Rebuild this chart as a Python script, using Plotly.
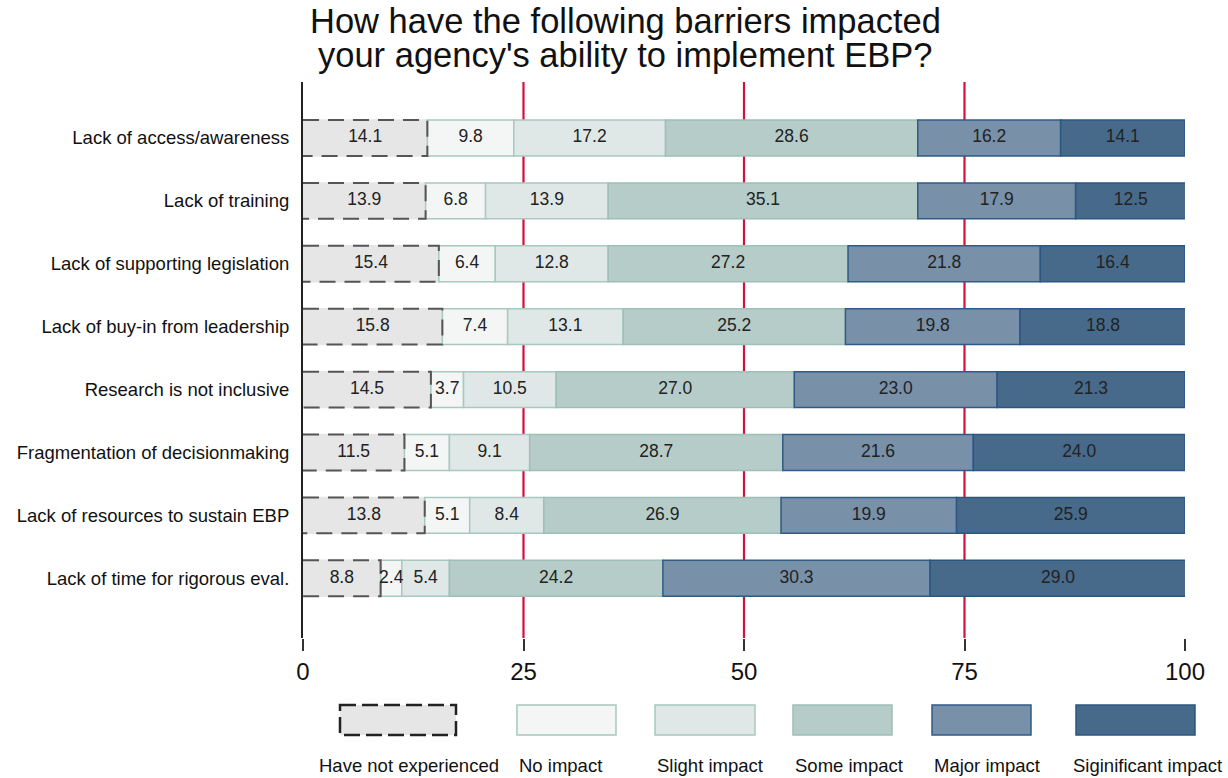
import plotly.graph_objects as go

categories = [
    "Lack of access/awareness",
    "Lack of training",
    "Lack of supporting legislation",
    "Lack of buy-in from leadership",
    "Research is not inclusive",
    "Fragmentation of decisionmaking",
    "Lack of resources to sustain EBP",
    "Lack of time for rigorous eval.",
]
series_names = ["Have not experienced", "No impact", "Slight impact",
                "Some impact", "Major impact", "Siginificant impact"]
have_not = [14.1, 13.9, 15.4, 15.8, 14.5, 11.5, 13.8, 8.8]
no_impact = [9.8, 6.8, 6.4, 7.4, 3.7, 5.1, 5.1, 2.4]
slight = [17.2, 13.9, 12.8, 13.1, 10.5, 9.1, 8.4, 5.4]
some = [28.6, 35.1, 27.2, 25.2, 27.0, 28.7, 26.9, 24.2]
major = [16.2, 17.9, 21.8, 19.8, 23.0, 21.6, 19.9, 30.3]
significant = [14.1, 12.5, 16.4, 18.8, 21.3, 24.0, 25.9, 29.0]
x_ticks = [0, 25, 50, 75, 100]
ref_lines = [25, 50, 75]
title_lines = ["How have the following barriers impacted",
               "your agency's ability to implement EBP?"]

fills = ["#e6e6e6", "#f4f6f5", "#e0e8e7", "#b6ccc8", "#7890a8", "#476a8b"]
borders = ["#e6e6e6", "#a8c8c0", "#a8c8c0", "#9ebfb7", "#2f5b86", "#2c5782"]
FONT = "Liberation Sans, Arial, sans-serif"
BAR_W = 0.57

all_series = [have_not, no_impact, slight, some, major, significant]
ypos = list(range(len(categories)))

fig = go.Figure()

# stacked bars
base = [0.0] * len(categories)
text_x, text_y, text_s = [], [], []
for name, vals, fc, bc in zip(series_names, all_series, fills, borders):
    fig.add_trace(go.Bar(
        y=ypos, x=vals, base=base, orientation="h", name=name, width=BAR_W,
        marker=dict(color=fc, line=dict(color=bc, width=1.5)),
        showlegend=False, hoverinfo="skip",
    ))
    for i, v in enumerate(vals):
        text_x.append(base[i] + v / 2)
        text_y.append(i)
        text_s.append(f"{v:.1f}")
    base = [b + v for b, v in zip(base, vals)]

# dashed outline for "Have not experienced"
ox, oy = [], []
for i, v in enumerate(have_not):
    ox += [0, v, v, 0, None]
    oy += [i - BAR_W / 2, i - BAR_W / 2, i + BAR_W / 2, i + BAR_W / 2, None]
fig.add_trace(go.Scatter(
    x=ox, y=oy, mode="lines", showlegend=False, hoverinfo="skip",
    line=dict(color="#555555", width=2, dash="16px,9px"),
))

# value labels
fig.add_trace(go.Scatter(
    x=text_x, y=text_y, text=text_s, mode="text", showlegend=False,
    textfont=dict(family=FONT, size=17.5, color="#222222"), hoverinfo="skip",
))

for r in ref_lines:
    fig.add_vline(x=r, line=dict(color="#d4103f", width=2.2), layer="below")

# layout geometry (pixels)
L, R, T, B = 303, 1185, 82, 638
W, H = R - L, B - T
def px_x(p):
    return (p - L) / W
def px_y(p):
    return (B - p) / H

# title as two annotations for tight line spacing
for line, cy in zip(title_lines, [21.5, 55.5]):
    fig.add_annotation(
        xref="paper", yref="paper", x=px_x(625), y=px_y(cy), text=line,
        showarrow=False, xanchor="center", yanchor="middle",
        font=dict(family=FONT, size=34.5, color="#111111"),
    )

# custom legend (boxes above labels)
legend_boxes = [(340, 456), (517, 616), (655, 755), (793, 892), (932, 1031), (1076, 1195)]
legend_text_x = [409, 517, 655, 793, 932, 1071]
for k, (name, (x0, x1)) in enumerate(zip(series_names, legend_boxes)):
    if k == 0:
        fig.add_shape(type="rect", xref="paper", yref="paper",
                      x0=px_x(x0), x1=px_x(x1), y0=px_y(705), y1=px_y(735),
                      fillcolor=fills[0], line=dict(color="#222222", width=2.5, dash="16px,6px"))
    else:
        fig.add_shape(type="rect", xref="paper", yref="paper",
                      x0=px_x(x0), x1=px_x(x1), y0=px_y(705), y1=px_y(735),
                      fillcolor=fills[k], line=dict(color=borders[k], width=1.5))
    fig.add_annotation(
        xref="paper", yref="paper", x=px_x(legend_text_x[k]), y=px_y(765),
        text=name, showarrow=False, xanchor="center" if k == 0 else "left",
        yanchor="middle", font=dict(family=FONT, size=18.5, color="#111111"),
    )

fig.update_layout(
    width=1228, height=778,
    margin=dict(l=L, r=1228 - R, t=T, b=778 - B),
    plot_bgcolor="white", paper_bgcolor="white",
    barmode="overlay",
    font=dict(family=FONT),
)
fig.update_xaxes(
    range=[0, 100], tickvals=x_ticks, ticktext=[str(t) for t in x_ticks],
    showgrid=False, zeroline=False, showline=False,
    ticks="outside", ticklen=12, tickwidth=1.5, tickcolor="#333333",
    tickfont=dict(family=FONT, size=24, color="#111111"),
)
fig.update_yaxes(
    range=[7.95, -0.89], tickvals=ypos, ticktext=categories,
    showgrid=False, zeroline=False, showline=True, linecolor="#222222", linewidth=2,
    ticks="", ticklabelstandoff=8,
    tickfont=dict(family=FONT, size=18.5, color="#111111"),
)

fig.write_html("out.html")
